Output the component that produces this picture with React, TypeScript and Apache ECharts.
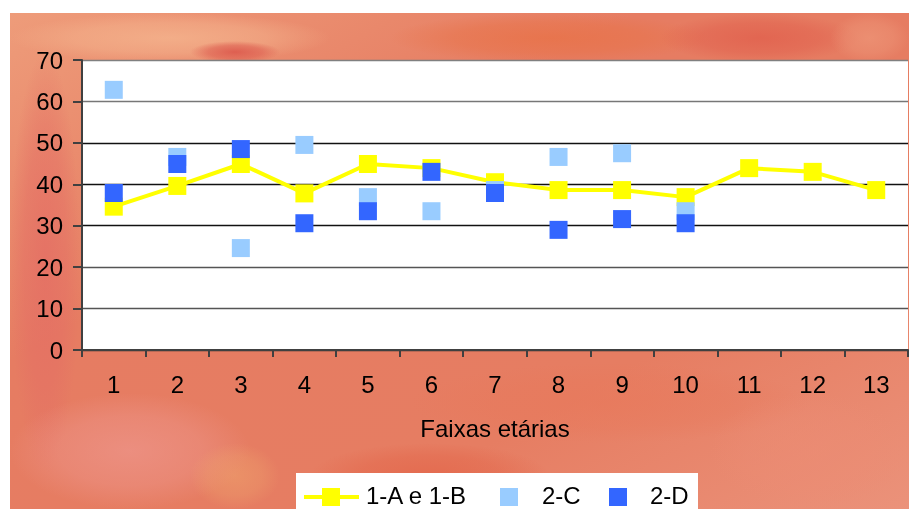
import React, { useEffect, useRef } from "react";
import * as echarts from "echarts";

const categories = ["1", "2", "3", "4", "5", "6", "7", "8", "9", "10", "11", "12", "13"];
const seriesAB = [34.6, 39.6, 44.9, 37.8, 44.9, 43.9, 40.5, 38.6, 38.6, 36.9, 43.9, 43.0, 38.6];
const series2C = [62.8, 46.6, 24.6, 49.5, 36.9, 33.5, 38.6, 46.6, 47.5, 33.5, null, null, null];
const series2D = [37.9, 44.9, 48.5, 30.6, 33.5, 43.0, 37.9, 29.0, 31.6, 30.6, null, null, null];
const legendNames = ["1-A e 1-B", "2-C", "2-D"];
const axisTitle = "Faixas etárias";

const FONT = "'Liberation Sans', Arial, sans-serif";

function radial(rgb: string, alpha: number) {
  return {
    type: "radial",
    x: 0.5,
    y: 0.5,
    r: 0.5,
    colorStops: [
      { offset: 0, color: `rgba(${rgb},${alpha})` },
      { offset: 0.6, color: `rgba(${rgb},${alpha * 0.6})` },
      { offset: 1, color: `rgba(${rgb},0)` },
    ],
  };
}

export default function App() {
  const ref = useRef<HTMLDivElement>(null);
  useEffect(() => {
    if (!ref.current) return;
    const chart = echarts.init(ref.current, null, { renderer: "svg" });
    const blob = (x: number, y: number, w: number, h: number, rgb: string, alpha: number) => ({
      type: "rect",
      z: -10,
      shape: { x, y, width: w, height: h },
      style: { fill: radial(rgb, alpha) },
      silent: true,
    });
    chart.setOption({
      animation: false,
      graphic: [
        {
          type: "group",
          x: 10,
          y: 13,
          z: -20,
          silent: true,
          children: [
            {
              type: "rect",
              z: -20,
              shape: { x: 0, y: 0, width: 899, height: 496 },
              style: {
                fill: {
                  type: "linear",
                  x: 0,
                  y: 0,
                  x2: 1,
                  y2: 1,
                  colorStops: [
                    { offset: 0, color: "#EE9C7A" },
                    { offset: 0.35, color: "#E67C62" },
                    { offset: 0.7, color: "#E67D62" },
                    { offset: 1, color: "#EB927A" },
                  ],
                },
              },
            },
            blob(0, 0, 320, 50, "244,178,140", 0.85),
            blob(180, 28, 90, 22, "220,88,76", 0.9),
            blob(380, 0, 320, 50, "232,114,72", 0.8),
            blob(650, 0, 200, 50, "224,92,74", 0.7),
            blob(820, 0, 79, 50, "238,150,120", 0.7),
            blob(0, 40, 70, 420, "228,110,100", 0.8),
            blob(0, 380, 240, 116, "238,150,140", 0.7),
            blob(180, 430, 90, 66, "240,170,110", 0.45),
            blob(300, 430, 240, 66, "226,96,68", 0.6),
            blob(400, 350, 400, 80, "232,120,90", 0.6),
            blob(700, 380, 199, 116, "236,140,116", 0.6),
          ],
        },
        {
          type: "group",
          x: 296,
          y: 473,
          children: [
            { type: "rect", shape: { x: 0, y: 0, width: 402, height: 40 }, style: { fill: "#ffffff" } },
            { type: "line", shape: { x1: 8, y1: 24, x2: 63, y2: 24 }, style: { stroke: "#FFFF00", lineWidth: 4 } },
            { type: "rect", shape: { x: 26, y: 15, width: 18, height: 18 }, style: { fill: "#FFFF00" } },
            { type: "text", x: 70, y: 22, style: { text: legendNames[0], font: `24px ${FONT}`, fill: "#000", verticalAlign: "middle" } },
            { type: "rect", shape: { x: 204, y: 15, width: 18, height: 18 }, style: { fill: "#99CCFF" } },
            { type: "text", x: 246, y: 22, style: { text: legendNames[1], font: `24px ${FONT}`, fill: "#000", verticalAlign: "middle" } },
            { type: "rect", shape: { x: 313, y: 15, width: 18, height: 18 }, style: { fill: "#3366FF" } },
            { type: "text", x: 354, y: 22, style: { text: legendNames[2], font: `24px ${FONT}`, fill: "#000", verticalAlign: "middle" } },
          ],
        },
      ],
      grid: {
        left: 82,
        top: 60,
        right: 1,
        bottom: 159,
        show: true,
        backgroundColor: "#ffffff",
        borderWidth: 0,
      },
      xAxis: {
        type: "category",
        data: categories,
        boundaryGap: true,
        name: axisTitle,
        nameLocation: "middle",
        nameGap: 66,
        nameTextStyle: { fontFamily: FONT, fontSize: 24, color: "#000" },
        axisLine: { lineStyle: { color: "#404040", width: 2 } },
        axisTick: { show: true, length: 7, lineStyle: { color: "#404040", width: 2 } },
        axisLabel: { fontFamily: FONT, fontSize: 24, color: "#000", margin: 22 },
        splitLine: { show: false },
      },
      yAxis: {
        type: "value",
        min: 0,
        max: 70,
        interval: 10,
        axisLine: { show: true, lineStyle: { color: "#404040", width: 2 } },
        axisTick: { show: true, length: 9, lineStyle: { color: "#404040", width: 2 } },
        axisLabel: { fontFamily: FONT, fontSize: 24, color: "#000", margin: 19 },
        splitLine: {
          show: true,
          lineStyle: {
            color: ["#333", "#555", "#555", "#111", "#111", "#111", "#777", "#808080"],
            width: 1.4,
          },
        },
      },
      series: [
        {
          name: legendNames[0],
          type: "line",
          data: seriesAB,
          symbol: "rect",
          symbolSize: 18,
          itemStyle: { color: "#FFFF00" },
          lineStyle: { color: "#FFFF00", width: 4 },
          z: 2,
        },
        {
          name: legendNames[1],
          type: "scatter",
          data: series2C,
          symbol: "rect",
          symbolSize: 18,
          itemStyle: { color: "#99CCFF", opacity: 1 },
          z: 3,
        },
        {
          name: legendNames[2],
          type: "scatter",
          data: series2D,
          symbol: "rect",
          symbolSize: 18,
          itemStyle: { color: "#3366FF", opacity: 1 },
          z: 4,
        },
      ],
    });
    return () => chart.dispose();
  }, []);
  return (
    <div
      ref={ref}
      style={{ position: "fixed", left: 0, top: 0, width: 909, height: 509 }}
    />
  );
}
